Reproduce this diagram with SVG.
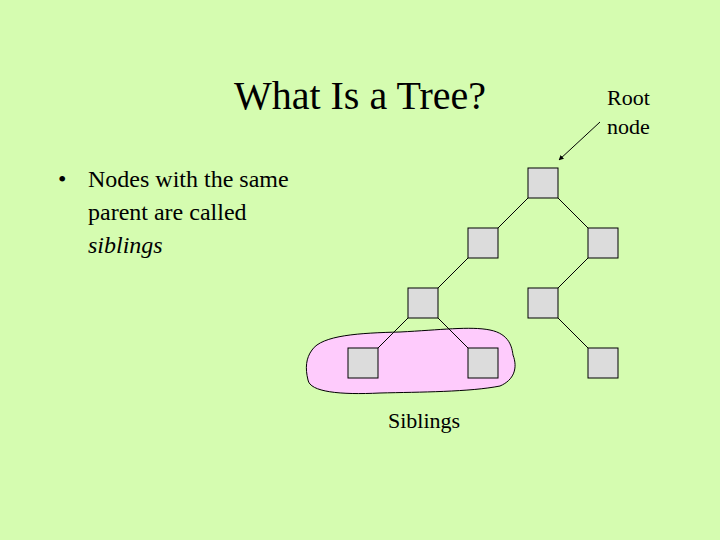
<svg xmlns="http://www.w3.org/2000/svg" width="720" height="540" viewBox="0 0 720 540">
<style>
.n{fill:#dcdcdc;stroke:#000;stroke-width:1}
.e{stroke:#000;stroke-width:1;fill:none}
.t{font-family:"Liberation Serif",serif;fill:#000}
</style>
<defs><marker id="a" viewBox="0 0 10 10" refX="9" refY="5" markerWidth="5" markerHeight="5" orient="auto"><path d="M0,0L10,5L0,10z" fill="#000"/></marker></defs>
<rect width="720" height="540" fill="#d5fcb0"/>
<text class="t" x="360" y="109" font-size="40" text-anchor="middle">What Is a Tree?</text>
<text class="t" x="607" y="105" font-size="22">Root</text>
<text class="t" x="607" y="134" font-size="22">node</text>
<text class="t" x="58" y="187" font-size="24">•</text>
<text class="t" x="88" y="187" font-size="24">Nodes with the same</text>
<text class="t" x="88" y="220" font-size="24">parent are called</text>
<text class="t" x="88" y="253" font-size="24" font-style="italic">siblings</text>
<path id="blob" d="M312,350 C322,335 360,333 400,332 C440,330 470,326 490,330 C510,334 512,348 513,355 C518,368 514,380 500,386 C470,392 420,392 380,393 C340,395 310,392 308,380 C305,368 306,358 312,350Z" fill="#fecbfc" stroke="#000" stroke-width="1"/>
<text class="t" x="424" y="428" font-size="22" text-anchor="middle">Siblings</text>
<g id="edges">
<path class="e" d="M528,198L498,228M558,198L588,228M468,258L438,288M588,258L558,288M408,318L378,348M438,318L468,348M558,318L588,348"/>
<path class="e" d="M600,122L559,160" stroke-width="2" marker-end="url(#a)"/>
</g>
<g id="root"><rect class="n" x="528" y="168" width="30" height="30"/></g>
<g id="n2l"><rect class="n" x="468" y="228" width="30" height="30"/></g>
<g id="n2r"><rect class="n" x="588" y="228" width="30" height="30"/></g>
<g id="n3l"><rect class="n" x="408" y="288" width="30" height="30"/></g>
<g id="n3r"><rect class="n" x="528" y="288" width="30" height="30"/></g>
<g id="n4a"><rect class="n" x="348" y="348" width="30" height="30"/></g>
<g id="n4b"><rect class="n" x="468" y="348" width="30" height="30"/></g>
<g id="n4c"><rect class="n" x="588" y="348" width="30" height="30"/></g>
</svg>
